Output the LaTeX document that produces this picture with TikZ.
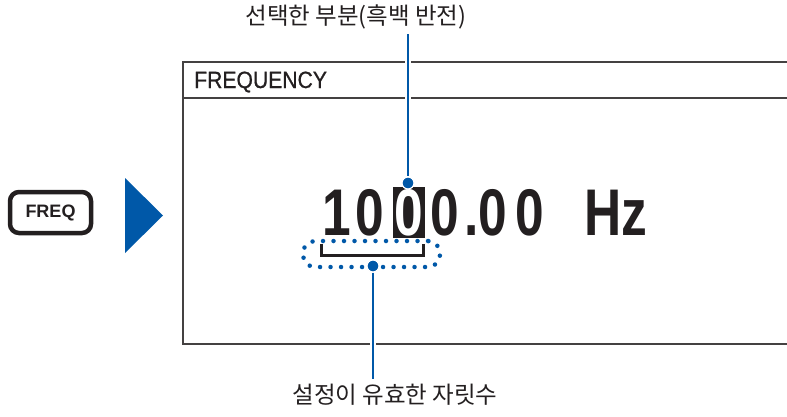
\documentclass[tikz,border=0pt]{standalone}
\usepackage{fontspec}
\setmainfont{Liberation Sans}
\newfontfamily\krfont{Noto Sans CJK KR}
\newfontfamily\lcdfont[FakeStretch=0.78]{Liberation Sans Bold}
\newfontfamily\titlefont[FakeStretch=0.9,FakeBold=0.8]{Liberation Sans}
\usepackage{tikz}
\usetikzlibrary{positioning,calc}
\usepackage{xcolor}
\definecolor{markblue}{RGB}{0,88,168}
\definecolor{lcdink}{RGB}{35,31,32}

\begin{document}
\begin{tikzpicture}[x=1pt,y=-1pt,
    digit/.style={font=\lcdfont\fontsize{66}{66}\selectfont,text=lcdink,inner sep=0pt,anchor=base},
    cellbox/.style={rectangle,fill=lcdink,minimum width=32pt,minimum height=51pt,inner sep=0pt},
    note/.style={font=\krfont\fontsize{23.5}{26}\selectfont,text=lcdink,inner xsep=2pt,inner ysep=5pt},
    keycap/.style={rectangle,draw=lcdink,line width=4.5pt,rounded corners=9pt,minimum width=81pt,minimum height=41pt,inner sep=0pt,font=\bfseries\fontsize{18}{18}\selectfont,text=lcdink},
    dotmark/.style={circle,fill=markblue,draw=white,line width=1.2pt,minimum size=12pt,inner sep=0pt},
    rangebox/.style={rectangle,draw=markblue,line width=4.5pt,dash pattern=on 0pt off 10.5pt,line cap=round,rounded corners=12pt,minimum width=137pt,minimum height=26pt},
    leader/.style={draw=markblue,line width=2pt,preaction={draw=white,line width=6pt}},
    frameline/.style={draw=lcdink!85,line width=1.6pt}]

\useasboundingbox (0,0) rectangle (787,416);

\node[keycap] (freqkey) at (50.5,212.5) {FREQ};
\fill[markblue] (125,178) -- (163,215.5) -- (125,253) -- cycle;

\draw[frameline] (787,62) -| (183,344) -- (787,344);
\draw[frameline] (183,98) -- (787,98);
\node[font=\titlefont\fontsize{23.5}{24}\selectfont,text=lcdink,anchor=base west,inner sep=0pt] (title) at (194,88) {FREQUENCY};

\node[digit] (d1) at (337,235) {1};
\node[digit] (d2) at (370,235) {0};
\node[cellbox] (cell) at (409,212.5) {};
\node[digit,text=white] (d3) at (409,235) {0};
\node[digit] (d4) at (445,235) {0};
\node[digit] (dp) at (472,235) {.};
\node[digit] (d5) at (493,235) {0};
\node[digit] (d6) at (530,235) {0};
\node[digit] (hz) at (616,235) {Hz};

\node[rangebox] (range) at (371.5,254) {};
\draw[lcdink,line width=3pt] (321,244) |- (423,255) -- (423,244);

\node[note] (sel) at (356,17) {선택한 부분(흑백 반전)};
\node[note] (valid) at (395,395) {설정이 유효한 자릿수};

\node[dotmark] (seldot) at (408,183) {};
\node[dotmark] (validdot) at (373,266) {};

\draw[leader] (sel.south -| seldot) -- (seldot.north);
\draw[leader] (validdot.south) -- (valid.north -| validdot);

\end{tikzpicture}
\end{document}
